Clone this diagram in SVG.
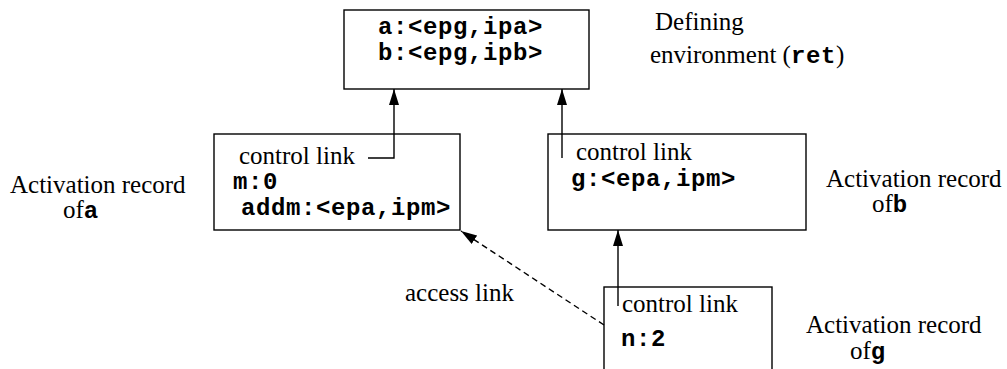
<svg xmlns="http://www.w3.org/2000/svg" width="1007" height="369" viewBox="0 0 1007 369">
  <style>
    .box { fill: #fff; stroke: #000; stroke-width: 1.4; }
    .lbl { font-family: "Liberation Serif", "Times New Roman", serif; font-size: 25px; fill: #000; }
    .code { font-family: "Liberation Mono", "Courier New", monospace; font-size: 24px; letter-spacing: 0.6px; font-weight: bold; fill: #000; }
    .link { fill: none; stroke: #000; stroke-width: 1.4; }
    .dash { stroke-dasharray: 6 4; }
  </style>
  <defs>
    <marker id="head" viewBox="0 0 16 10" refX="16" refY="5" markerWidth="16" markerHeight="10" markerUnits="userSpaceOnUse" orient="auto">
      <path d="M0,0 L16,5 L0,10 Z" fill="#000"/>
    </marker>
  </defs>
  <rect width="1007" height="369" fill="#fff"/>

  <!-- defining environment -->
  <g id="env">
    <rect class="box" x="344" y="10" width="245" height="79"/>
    <text class="code" x="378" y="34">a:&lt;epg,ipa&gt;</text>
    <text class="code" x="378" y="60">b:&lt;epg,ipb&gt;</text>
  </g>
  <g id="env-label">
    <text class="lbl" x="655" y="30">Defining</text>
    <text class="lbl" x="650" y="63">environment (<tspan class="code">ret</tspan>)</text>
  </g>

  <!-- activation record of a -->
  <g id="ar-a">
    <rect class="box" x="214" y="134" width="246" height="96"/>
    <text class="lbl" x="239" y="164">control link</text>
    <text class="code" x="233" y="189">m:0</text>
    <text class="code" x="241" y="215">addm:&lt;epa,ipm&gt;</text>
  </g>
  <g id="ar-a-label">
    <text class="lbl" x="10" y="193">Activation record</text>
    <text class="lbl" x="63" y="218">of<tspan class="code">a</tspan></text>
  </g>

  <!-- activation record of b -->
  <g id="ar-b">
    <rect class="box" x="548" y="134" width="258" height="96"/>
    <text class="lbl" x="576" y="160">control link</text>
    <text class="code" x="571" y="186">g:&lt;epa,ipm&gt;</text>
  </g>
  <g id="ar-b-label">
    <text class="lbl" x="826" y="187">Activation record</text>
    <text class="lbl" x="872" y="212">of<tspan class="code">b</tspan></text>
  </g>

  <!-- activation record of g -->
  <g id="ar-g">
    <rect class="box" x="604" y="287" width="168" height="100"/>
    <text class="lbl" x="622" y="312">control link</text>
    <text class="code" x="621" y="346">n:2</text>
  </g>
  <g id="ar-g-label">
    <text class="lbl" x="806" y="333">Activation record</text>
    <text class="lbl" x="850" y="359">of<tspan class="code">g</tspan></text>
  </g>

  <!-- links between records -->
  <g id="connectors">
    <polyline class="link" points="368,158 394,158 394,89" marker-end="url(#head)"/>
    <line class="link" x1="562" y1="158" x2="562" y2="89" marker-end="url(#head)"/>
    <line class="link" x1="618" y1="306" x2="618" y2="230" marker-end="url(#head)"/>
    <line class="link dash" x1="604" y1="325" x2="461" y2="231" marker-end="url(#head)"/>
    <text class="lbl" x="405" y="301">access link</text>
  </g>
</svg>
